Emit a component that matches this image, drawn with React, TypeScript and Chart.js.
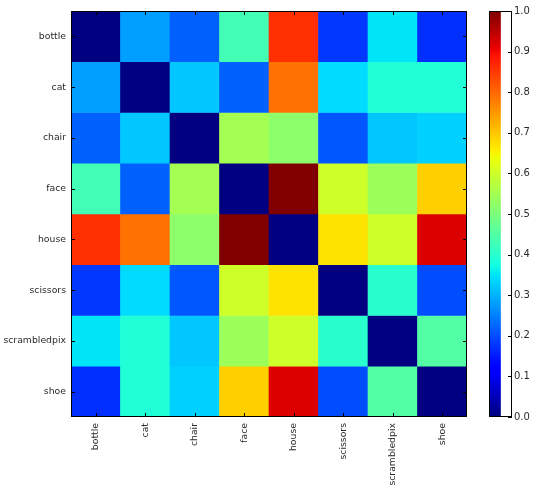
import React, { useEffect, useRef } from "react";
import { Chart, registerables } from "chart.js";

Chart.register(...registerables);

// Category names shared by both axes
const classes = ["bottle", "cat", "chair", "face", "house", "scissors", "scrambledpix", "shoe"];

// Pairwise dissimilarity, one array per row (symmetric, zero diagonal)
const rowBottle = [0.0, 0.28, 0.22, 0.43, 0.86, 0.18, 0.35, 0.17];
const rowCat = [0.28, 0.0, 0.32, 0.22, 0.79, 0.34, 0.39, 0.39];
const rowChair = [0.22, 0.32, 0.0, 0.55, 0.52, 0.21, 0.32, 0.33];
const rowFace = [0.43, 0.22, 0.55, 0.0, 1.0, 0.6, 0.54, 0.69];
const rowHouse = [0.86, 0.79, 0.52, 1.0, 0.0, 0.67, 0.6, 0.92];
const rowScissors = [0.18, 0.34, 0.21, 0.6, 0.67, 0.0, 0.4, 0.2];
const rowScrambled = [0.35, 0.39, 0.32, 0.54, 0.6, 0.4, 0.0, 0.45];
const rowShoe = [0.17, 0.39, 0.33, 0.69, 0.92, 0.2, 0.45, 0.0];

const matrix = [rowBottle, rowCat, rowChair, rowFace, rowHouse, rowScissors, rowScrambled, rowShoe];

// Colour bar range and tick labels
const cbMin = 0;
const cbMax = 1;
const cbTicks = [0.0, 0.1, 0.2, 0.3, 0.4, 0.5, 0.6, 0.7, 0.8, 0.9, 1.0];

const FONT = { family: "'DejaVu Sans', sans-serif", size: 9.3 };
const TEXT = "#2a2a2a";

// Piecewise-linear "jet" colormap
type Seg = [number, number][];
const RED: Seg = [[0, 0], [0.35, 0], [0.66, 1], [0.89, 1], [1, 0.5]];
const GREEN: Seg = [[0, 0], [0.125, 0], [0.375, 1], [0.64, 1], [0.91, 0], [1, 0]];
const BLUE: Seg = [[0, 0.5], [0.11, 1], [0.34, 1], [0.65, 0], [1, 0]];

function interp(seg: Seg, v: number): number {
  if (v <= seg[0][0]) return seg[0][1];
  for (let i = 1; i < seg.length; i++) {
    const [x1, y1] = seg[i];
    const [x0, y0] = seg[i - 1];
    if (v <= x1) return y0 + ((v - x0) / (x1 - x0)) * (y1 - y0);
  }
  return seg[seg.length - 1][1];
}

function jet(v: number): string {
  const t = Math.max(0, Math.min(1, (v - cbMin) / (cbMax - cbMin)));
  const r = Math.round(interp(RED, t) * 255);
  const g = Math.round(interp(GREEN, t) * 255);
  const b = Math.round(interp(BLUE, t) * 255);
  return `rgb(${r},${g},${b})`;
}

// Frame and inward-pointing tick marks, in the style of a classic plot
const frameTicks = {
  id: "frameTicks",
  afterDatasetsDraw(chart: any, _args: any, opts: any) {
    const { ctx, chartArea: a } = chart;
    ctx.save();
    ctx.strokeStyle = "#000";
    ctx.lineWidth = 1;
    ctx.strokeRect(Math.round(a.left) + 0.5, Math.round(a.top) + 0.5, Math.round(a.right - a.left) - 1, Math.round(a.bottom - a.top) - 1);
    const len = 4;
    ctx.beginPath();
    if (opts.x) {
      const xs = chart.scales.x;
      xs.ticks.forEach((_t: any, i: number) => {
        const px = Math.round(xs.getPixelForTick(i)) + 0.5;
        ctx.moveTo(px, a.top);
        ctx.lineTo(px, a.top + len);
        ctx.moveTo(px, a.bottom);
        ctx.lineTo(px, a.bottom - len);
      });
    }
    const ys = chart.scales.y;
    ys.ticks.forEach((t: any) => {
      const py = Math.round(ys.getPixelForValue(t.value)) + 0.5;
      if (opts.left) {
        ctx.moveTo(a.left, py);
        ctx.lineTo(a.left + len, py);
      }
      ctx.moveTo(a.right, py);
      ctx.lineTo(a.right - len, py);
    });
    ctx.stroke();
    ctx.restore();
  },
};

export default function App() {
  const heatRef = useRef<HTMLCanvasElement>(null);
  const barRef = useRef<HTMLCanvasElement>(null);

  useEffect(() => {
    if (!heatRef.current || !barRef.current) return;

    const heat = new Chart(heatRef.current, {
      type: "bar",
      data: {
        labels: classes,
        datasets: matrix.map((row, r) => ({
          label: classes[r],
          data: row.map(() => [r, r + 1]) as any,
          backgroundColor: row.map(jet),
          borderWidth: 0,
          grouped: false,
          barPercentage: 1,
          categoryPercentage: 1,
        })),
      },
      options: {
        responsive: false,
        animation: false,
        events: [],
        layout: { padding: { top: 11, right: 13, bottom: 0, left: 0 } },
        plugins: {
          legend: { display: false },
          tooltip: { enabled: false },
          frameTicks: { x: true, left: true },
        } as any,
        scales: {
          x: {
            type: "category",
            grid: { display: false, drawTicks: false },
            border: { display: false },
            ticks: {
              autoSkip: false,
              maxRotation: 90,
              minRotation: 90,
              padding: 6,
              color: TEXT,
              font: FONT,
            },
            afterFit: (s: any) => {
              s.height = 73;
            },
          },
          y: {
            type: "linear",
            min: 0,
            max: classes.length,
            reverse: true,
            grid: { display: false, drawTicks: false },
            border: { display: false },
            afterBuildTicks: (s: any) => {
              s.ticks = classes.map((_c, i) => ({ value: i + 0.5 }));
            },
            ticks: {
              padding: 5,
              color: TEXT,
              font: FONT,
              callback: (v: any) => classes[Math.floor(Number(v))],
            },
            afterFit: (s: any) => {
              s.width = 71;
            },
          },
        },
      },
      plugins: [frameTicks],
    });

    const bar = new Chart(barRef.current, {
      type: "bar",
      data: {
        labels: ["scale"],
        datasets: [
          {
            data: [[cbMin, cbMax]] as any,
            borderWidth: 0,
            barPercentage: 1,
            categoryPercentage: 1,
            backgroundColor: (c: any) => {
              const area = c.chart.chartArea;
              if (!area) return "#000";
              const g = c.chart.ctx.createLinearGradient(0, area.bottom, 0, area.top);
              for (let i = 0; i <= 100; i++) {
                const t = i / 100;
                g.addColorStop(t, jet(cbMin + t * (cbMax - cbMin)));
              }
              return g;
            },
          },
        ],
      },
      options: {
        responsive: false,
        animation: false,
        events: [],
        layout: { padding: { top: 11, right: 0, bottom: 73, left: 9 } },
        plugins: {
          legend: { display: false },
          tooltip: { enabled: false },
          frameTicks: { x: false, left: false },
        } as any,
        scales: {
          x: { display: false, offset: false },
          y: {
            type: "linear",
            position: "right",
            min: cbMin,
            max: cbMax,
            grid: { display: false, drawTicks: false },
            border: { display: false },
            afterBuildTicks: (s: any) => {
              s.ticks = cbTicks.map((v) => ({ value: v }));
            },
            ticks: {
              padding: 2,
              color: TEXT,
              font: { family: FONT.family, size: 10 },
              callback: (v: any) => Number(v).toFixed(1),
            },
            afterFit: (s: any) => {
              s.width = 23;
            },
          },
        },
      },
      plugins: [frameTicks],
    });

    return () => {
      heat.destroy();
      bar.destroy();
    };
  }, []);

  return (
    <div style={{ position: "absolute", left: 0, top: 0, width: 535, height: 490, background: "#fff" }}>
      <canvas ref={heatRef} width={480} height={490} style={{ position: "absolute", left: 0, top: 0, width: 480, height: 490 }} />
      <canvas ref={barRef} width={55} height={490} style={{ position: "absolute", left: 480, top: 0, width: 55, height: 490 }} />
    </div>
  );
}
